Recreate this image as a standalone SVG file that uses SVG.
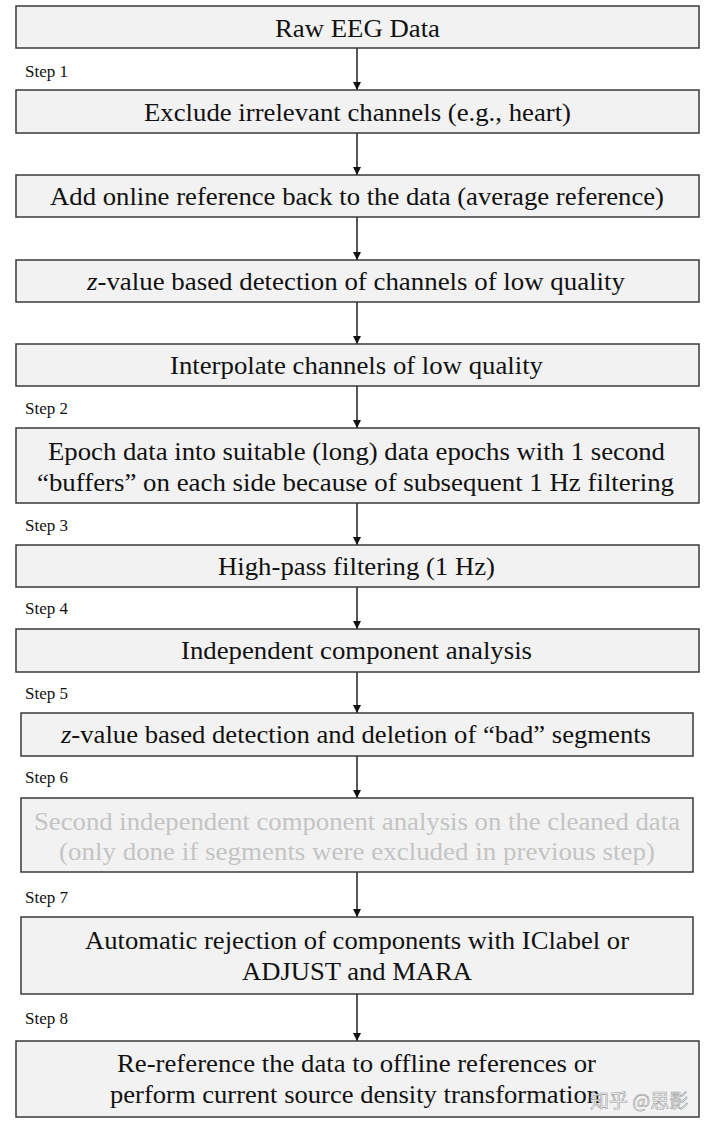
<svg xmlns="http://www.w3.org/2000/svg" width="720" height="1129" viewBox="0 0 720 1129">
<style>
.box{fill:#f2f2f2;stroke:#3a3a3a;stroke-width:1.5}
.t{font-family:"Times New Roman","Liberation Serif",Tinos,Times,serif;font-size:25px;fill:#111;text-anchor:middle}
.g{fill:#c4c4c4}
.s{font-family:"Times New Roman","Liberation Serif",Tinos,Times,serif;font-size:17px;fill:#111}
.c{stroke:#111;stroke-width:1.4;fill:none}
.wm{font-family:"Noto Sans CJK SC","Noto Sans",sans-serif;font-size:19px;fill:#ffffff;fill-opacity:0.85;stroke:#9a9a9a;stroke-width:0.6}
</style>
<defs>
<marker id="ah" viewBox="0 0 8 10" refX="8" refY="5" markerWidth="8" markerHeight="10" markerUnits="userSpaceOnUse" orient="auto">
<path d="M0,1 L8,5 L0,9 Z" fill="#111"/>
</marker>
</defs>
<rect width="720" height="1129" fill="#ffffff"/>
<g id="connectors">
<line class="c" x1="357" y1="48" x2="357" y2="90" marker-end="url(#ah)"/>
<line class="c" x1="357" y1="133" x2="357" y2="175" marker-end="url(#ah)"/>
<line class="c" x1="357" y1="217" x2="357" y2="260" marker-end="url(#ah)"/>
<line class="c" x1="357" y1="302" x2="357" y2="344" marker-end="url(#ah)"/>
<line class="c" x1="357" y1="386" x2="357" y2="428" marker-end="url(#ah)"/>
<line class="c" x1="357" y1="503" x2="357" y2="545" marker-end="url(#ah)"/>
<line class="c" x1="357" y1="587" x2="357" y2="629" marker-end="url(#ah)"/>
<line class="c" x1="357" y1="672" x2="357" y2="713" marker-end="url(#ah)"/>
<line class="c" x1="357" y1="756" x2="357" y2="798" marker-end="url(#ah)"/>
<line class="c" x1="357" y1="872" x2="357" y2="917" marker-end="url(#ah)"/>
<line class="c" x1="357" y1="994" x2="357" y2="1041" marker-end="url(#ah)"/>
</g>
<g id="labels">
<text class="s" x="25" y="77">Step 1</text>
<text class="s" x="25" y="414">Step 2</text>
<text class="s" x="25" y="531">Step 3</text>
<text class="s" x="25" y="614">Step 4</text>
<text class="s" x="25" y="699">Step 5</text>
<text class="s" x="25" y="783">Step 6</text>
<text class="s" x="25" y="903">Step 7</text>
<text class="s" x="25" y="1024">Step 8</text>
</g>
<g id="n1"><rect class="box" x="16" y="6" width="683" height="42"/><text class="t" x="357.5" y="37" textLength="165" lengthAdjust="spacingAndGlyphs">Raw EEG Data</text></g>
<g id="n2"><rect class="box" x="16" y="90" width="683" height="43"/><text class="t" x="357.5" y="121" textLength="427" lengthAdjust="spacingAndGlyphs">Exclude irrelevant channels (e.g., heart)</text></g>
<g id="n3"><rect class="box" x="16" y="175" width="683" height="42"/><text class="t" x="357" y="205" textLength="614" lengthAdjust="spacingAndGlyphs">Add online reference back to the data (average reference)</text></g>
<g id="n4"><rect class="box" x="16" y="260" width="683" height="42"/><text class="t" x="356" y="290" textLength="538" lengthAdjust="spacingAndGlyphs"><tspan font-style="italic">z</tspan>-value based detection of channels of low quality</text></g>
<g id="n5"><rect class="box" x="16" y="344" width="683" height="42"/><text class="t" x="356.5" y="374" textLength="373" lengthAdjust="spacingAndGlyphs">Interpolate channels of low quality</text></g>
<g id="n6"><rect class="box" x="16" y="428" width="683" height="75"/><text class="t" x="356.5" y="460" textLength="617" lengthAdjust="spacingAndGlyphs">Epoch data into suitable (long) data epochs with 1 second</text><text class="t" x="355.5" y="491" textLength="637" lengthAdjust="spacingAndGlyphs">“buffers” on each side because of subsequent 1 Hz filtering</text></g>
<g id="n7"><rect class="box" x="16" y="545" width="683" height="42"/><text class="t" x="356.5" y="575" textLength="277" lengthAdjust="spacingAndGlyphs">High-pass filtering (1 Hz)</text></g>
<g id="n8"><rect class="box" x="16" y="629" width="683" height="43"/><text class="t" x="356.5" y="659" textLength="351" lengthAdjust="spacingAndGlyphs">Independent component analysis</text></g>
<g id="n9"><rect class="box" x="21" y="713" width="672" height="43"/><text class="t" x="356" y="743" textLength="590" lengthAdjust="spacingAndGlyphs"><tspan font-style="italic">z</tspan>-value based detection and deletion of “bad” segments</text></g>
<g id="n10"><rect class="box" x="21" y="798" width="672" height="74"/><text class="t g" x="357" y="830" textLength="646" lengthAdjust="spacingAndGlyphs">Second independent component analysis on the cleaned data</text><text class="t g" x="357" y="860" textLength="596" lengthAdjust="spacingAndGlyphs">(only done if segments were excluded in previous step)</text></g>
<g id="n11"><rect class="box" x="21" y="917" width="672" height="77"/><text class="t" x="357" y="949" textLength="544" lengthAdjust="spacingAndGlyphs">Automatic rejection of components with IClabel or</text><text class="t" x="357" y="980" textLength="230" lengthAdjust="spacingAndGlyphs">ADJUST and MARA</text></g>
<g id="n12"><rect class="box" x="16" y="1041" width="683" height="76"/><text class="t" x="356.5" y="1072" textLength="479" lengthAdjust="spacingAndGlyphs">Re-reference the data to offline references or</text><text class="t" x="355" y="1103" textLength="490" lengthAdjust="spacingAndGlyphs">perform current source density transformation</text></g>
<text class="wm" x="590" y="1108">知乎 @思影</text>
</svg>
